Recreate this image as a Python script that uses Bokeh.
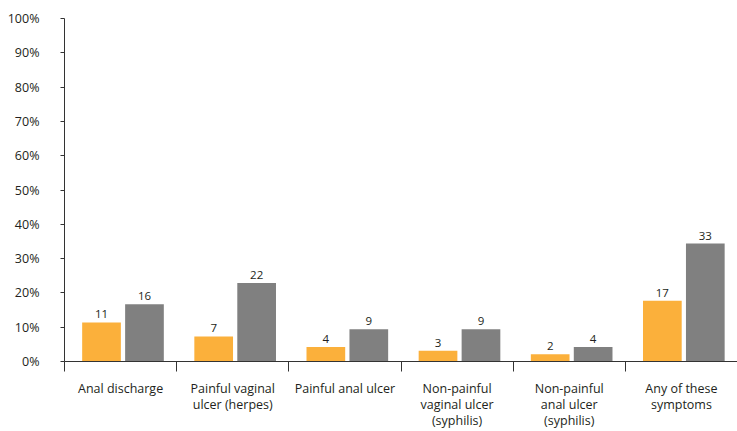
from bokeh.plotting import figure
from bokeh.models import ColumnDataSource, FixedTicker, LabelSet
from bokeh.core.properties import value
from bokeh.embed import file_html
from bokeh.resources import INLINE

categories = ["Anal discharge", "Painful vaginal\nulcer (herpes)", "Painful anal ulcer",
              "Non-painful\nvaginal ulcer\n(syphilis)", "Non-painful\nanal ulcer\n(syphilis)",
              "Any of these\nsymptoms"]
series_a = [11.4, 7.3, 4.2, 3.1, 2.1, 17.7]
series_b = [16.7, 22.9, 9.4, 9.4, 4.2, 34.4]
labels_a = ["11", "7", "4", "3", "2", "17"]
labels_b = ["16", "22", "9", "9", "4", "33"]
y_ticks = [0, 10, 20, 30, 40, 50, 60, 70, 80, 90, 100]

FONT = "Open Sans"
TXT = "#231f20"
n = len(categories)
centers = [i + 0.5 for i in range(n)]

p = figure(width=737, height=431, x_range=(0, n), y_range=(0, 100),
           output_backend="svg", toolbar_location=None,
           min_border_left=64, min_border_right=0, min_border_top=18, min_border_bottom=69)
p.outline_line_color = None
p.xgrid.visible = False
p.ygrid.visible = False

src_a = ColumnDataSource(dict(x=[c - 0.17 for c in centers], top=series_a, lab=labels_a))
src_b = ColumnDataSource(dict(x=[c + 0.213 for c in centers], top=series_b, lab=labels_b))
p.vbar(x="x", top="top", bottom=0, width=0.345, source=src_a, fill_color="#FBB03B", line_color=None)
p.vbar(x="x", top="top", bottom=0, width=0.345, source=src_b, fill_color="#808080", line_color=None)

for src in (src_a, src_b):
    p.add_layout(LabelSet(x="x", y="top", text="lab", source=src, text_align="center",
                          text_baseline="bottom", y_offset=4, text_font=value(FONT),
                          text_font_size="11.5px", text_color=TXT))

# x axis: labels at category centres, separator ticks at category edges
xa = p.xaxis[0]
xa.ticker = FixedTicker(ticks=centers, minor_ticks=list(range(n + 1)))
xa.major_label_overrides = {c: cat for c, cat in zip(centers, categories)}
xa.major_tick_out = 0
xa.major_tick_in = 0
xa.minor_tick_out = 10
xa.minor_tick_in = 0
xa.minor_tick_line_color = "#333333"
xa.axis_line_color = "#333333"
xa.major_label_standoff = 8
xa.major_label_text_font = FONT
xa.major_label_text_font_size = "12.5px"
xa.major_label_text_color = TXT
xa.major_label_text_line_height = 0.95

# y axis
ya = p.yaxis[0]
ya.ticker = FixedTicker(ticks=y_ticks)
ya.major_label_overrides = {t: f"{t}%" for t in y_ticks}
ya.major_tick_out = 4
ya.major_tick_in = 0
ya.minor_tick_out = 0
ya.minor_tick_in = 0
ya.axis_line_color = "#333333"
ya.major_tick_line_color = "#333333"
ya.major_label_standoff = 21
ya.major_label_text_font = FONT
ya.major_label_text_font_size = "12.5px"
ya.major_label_text_color = TXT

open("out.html", "w").write(file_html(p, INLINE))
